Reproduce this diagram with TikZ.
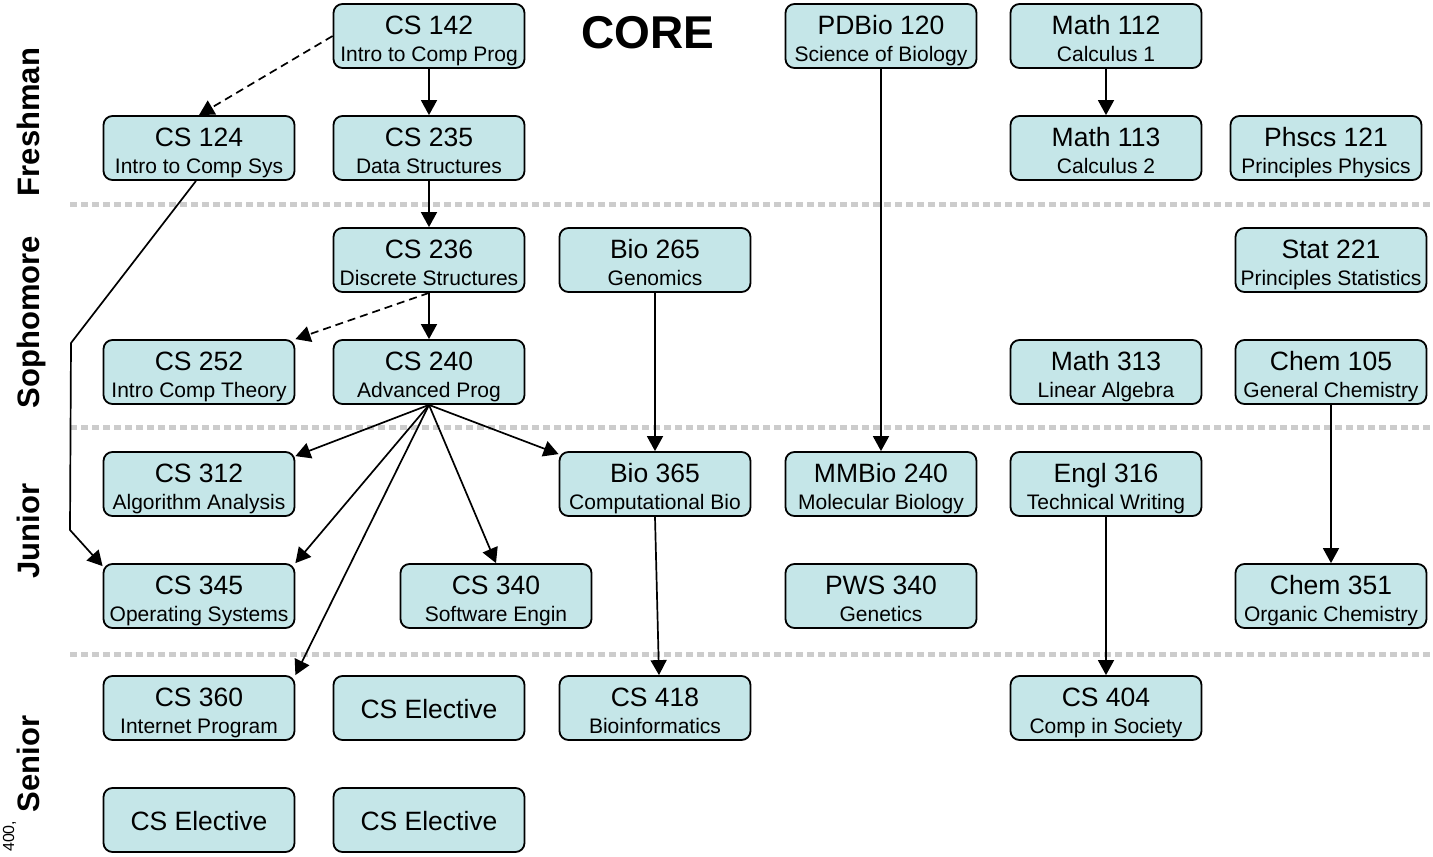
\documentclass[tikz,border=0pt]{standalone}
\usepackage{fontspec}
\setmainfont{Liberation Sans}
\usetikzlibrary{arrows.meta}
\definecolor{boxc}{RGB}{197,230,232}
\definecolor{sepc}{RGB}{204,204,204}
\tikzset{
  cbox/.style={draw, rounded corners=9pt, fill=boxc, minimum width=191pt, minimum height=64pt, line width=1.8pt, inner sep=0pt},
  lone/.style={inner sep=0pt, font=\fontsize{26.5}{30}\selectfont},
  ltwo/.style={inner sep=0pt, font=\fontsize{21}{24}\selectfont},
  rowlab/.style={inner sep=0pt, rotate=90, anchor=base, font=\fontsize{31}{34}\selectfont\bfseries},
  sep/.style={draw=sepc, line width=5pt, dash pattern=on 6.5pt off 4.5pt},
  arr/.style={draw, line width=1.7pt, -{Triangle[length=15pt,width=16pt]}},
  darr/.style={arr, dash pattern=on 8pt off 5pt},
}
\newcommand\mkcourse[5]{%
  \node[cbox] (#1) at (#2,#3) {};
  \node[lone, anchor=base] at (#2,#3-2) {#4};
  \node[ltwo, anchor=base] at (#2,#3+25) {#5};
}
\newcommand\mkelective[3]{%
  \node[cbox] (#1) at (#2,#3) {};
  \node[lone, anchor=base] at (#2,#3+10) {CS Elective};
}
\begin{document}
\begin{tikzpicture}[x=1pt,y=-1pt]
\useasboundingbox (0,0) rectangle (1433,857);
% separators
\draw[sep] (70,204) -- (1433,204);
\draw[sep] (70,427) -- (1433,427);
\draw[sep] (70,654) -- (1433,654);
% row labels
\node[rowlab] (lfr) at (39,122) {Freshman};
\node[rowlab] (lso) at (39,322) {Sophomore};
\node[rowlab] (lju) at (39,531) {Junior};
\node[rowlab] (lse) at (39,764) {Senior};
\node[inner sep=0pt, rotate=90, anchor=base west, font=\fontsize{16}{18}\selectfont] (foot) at (14,852) {400,};
% title
\node[inner sep=0pt, anchor=base, font=\fontsize{46}{50}\selectfont\bfseries] (core) at (648,48) {CORE};
% courses
\mkcourse{cs142}{429}{36}{CS 142}{Intro to Comp Prog}
\mkcourse{pdbio}{881}{36}{PDBio 120}{Science of Biology}
\mkcourse{m112}{1106}{36}{Math 112}{Calculus 1}
\mkcourse{cs124}{199}{148}{CS 124}{Intro to Comp Sys}
\mkcourse{cs235}{429}{148}{CS 235}{Data Structures}
\mkcourse{m113}{1106}{148}{Math 113}{Calculus 2}
\mkcourse{ph121}{1326}{148}{Phscs 121}{Principles Physics}
\mkcourse{cs236}{429}{260}{CS 236}{Discrete Structures}
\mkcourse{bio265}{655}{260}{Bio 265}{Genomics}
\mkcourse{st221}{1331}{260}{Stat 221}{Principles Statistics}
\mkcourse{cs252}{199}{372}{CS 252}{Intro Comp Theory}
\mkcourse{cs240}{429}{372}{CS 240}{Advanced Prog}
\mkcourse{m313}{1106}{372}{Math 313}{Linear Algebra}
\mkcourse{ch105}{1331}{372}{Chem 105}{General Chemistry}
\mkcourse{cs312}{199}{484}{CS 312}{Algorithm Analysis}
\mkcourse{bio365}{655}{484}{Bio 365}{Computational Bio}
\mkcourse{mm240}{881}{484}{MMBio 240}{Molecular Biology}
\mkcourse{en316}{1106}{484}{Engl 316}{Technical Writing}
\mkcourse{cs345}{199}{596}{CS 345}{Operating Systems}
\mkcourse{cs340}{496}{596}{CS 340}{Software Engin}
\mkcourse{pws340}{881}{596}{PWS 340}{Genetics}
\mkcourse{ch351}{1331}{596}{Chem 351}{Organic Chemistry}
\mkcourse{cs360}{199}{708}{CS 360}{Internet Program}
\mkelective{el1}{429}{708}
\mkcourse{cs418}{655}{708}{CS 418}{Bioinformatics}
\mkcourse{cs404}{1106}{708}{CS 404}{Comp in Society}
\mkelective{el2}{199}{820}
\mkelective{el3}{429}{820}
% connectors
\coordinate (k1) at (71,343);
\coordinate (k2) at (70,530);
\draw[darr] (cs142.west) -- (cs124.north);
\draw[arr] (cs142.south) -- (cs235.north);
\draw[arr] (cs235.south) -- (cs236.north);
\draw[arr] (cs236.south) -- (cs240.north);
\draw[darr] (cs236.south) -- (cs252.north east);
\draw[arr] (cs240.south) -- ([yshift=-5pt]cs312.north east);
\draw[arr] (cs240.south) -- (cs345.north east);
\draw[arr] (cs240.south) -- (cs360.north east);
\draw[arr] (cs240.south) -- (cs340.north);
\draw[arr] (cs240.south) -- ([yshift=-3pt]bio365.north west);
\draw[arr] ([xshift=-3pt]cs124.south) -- (k1) -- (k2) -- ([yshift=-3pt]cs345.north west);
\draw[arr] (bio265.south) -- (bio365.north);
\draw[arr] (bio365.south) -- ([xshift=4pt]cs418.north);
\draw[arr] (pdbio.south) -- (mm240.north);
\draw[arr] (m112.south) -- (m113.north);
\draw[arr] (en316.south) -- (cs404.north);
\draw[arr] (ch105.south) -- (ch351.north);
\end{tikzpicture}
\end{document}
